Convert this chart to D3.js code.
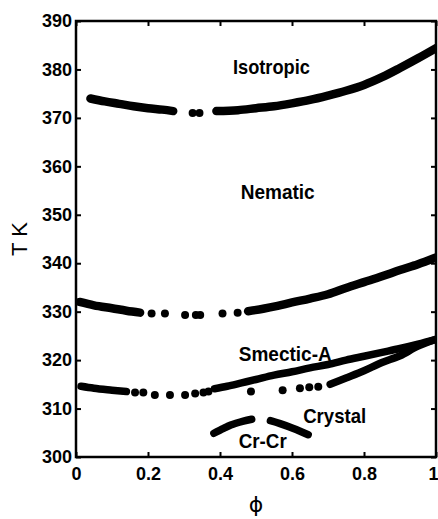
<!DOCTYPE html>
<html>
<head>
<meta charset="utf-8">
<script src="https://cdn.jsdelivr.net/npm/d3@7"></script>
<style>
  body { margin: 0; background: #fff; }
  svg { display: block; }
  text { fill: #000; }
</style>
</head>
<body>
<script>
// phase boundaries, [phi, T in K]
// dense runs are drawn as thick bands, sparse ones as single dots
const isotropicRun1 = [[0.04, 374.0], [0.08, 373.4], [0.12, 372.9], [0.16, 372.4], [0.20, 372.0], [0.24, 371.7], [0.27, 371.4]];
const isotropicDots = [[0.324, 371.0], [0.343, 371.0]];
const isotropicRun2 = [[0.39, 371.4], [0.45, 371.6], [0.5, 372.0], [0.55, 372.4], [0.6, 373.0], [0.65, 373.7], [0.7, 374.6],
  [0.75, 375.6], [0.8, 376.8], [0.85, 378.4], [0.9, 380.3], [0.95, 382.3], [1.0, 384.4]];

const nematicRun1 = [[0.01, 332.0], [0.05, 331.3], [0.1, 330.7], [0.14, 330.2], [0.178, 329.8]];
const nematicDots = [[0.21, 329.6], [0.247, 329.6], [0.303, 329.3], [0.333, 329.3], [0.345, 329.3], [0.407, 329.6], [0.449, 329.8]];
const nematicRun2 = [[0.478, 330.1], [0.52, 330.6], [0.56, 331.2], [0.6, 331.9], [0.65, 332.7], [0.7, 333.6], [0.75, 334.9],
  [0.8, 336.1], [0.85, 337.3], [0.9, 338.6], [0.95, 339.8], [1.0, 341.2]];

const smecticRun1 = [[0.014, 314.6], [0.05, 314.2], [0.1, 313.8], [0.14, 313.5]];
const smecticDots = [[0.164, 313.3], [0.187, 313.3], [0.219, 312.8], [0.261, 312.8], [0.303, 312.8], [0.331, 313.1], [0.354, 313.3], [0.368, 313.5]];
const smecticRun2 = [[0.385, 314.1], [0.42, 314.6], [0.46, 315.3], [0.5, 316.0], [0.55, 316.9], [0.6, 317.6], [0.65, 318.4],
  [0.7, 319.1], [0.75, 320.0], [0.8, 320.8], [0.85, 321.6], [0.9, 322.4], [0.95, 323.3], [1.0, 324.3]];

const crystalDots = [[0.486, 313.5], [0.574, 313.8], [0.622, 314.2], [0.648, 314.4], [0.673, 314.5]];
const crystalRun = [[0.706, 315.0], [0.75, 316.3], [0.8, 317.8], [0.85, 319.5], [0.9, 320.9], [0.95, 322.9], [1.0, 324.3]];

const crcrRun1 = [[0.383, 304.9], [0.41, 305.9], [0.43, 306.6], [0.465, 307.4], [0.488, 307.8]];
const crcrRun2 = [[0.54, 307.5], [0.567, 306.9], [0.604, 305.9], [0.645, 304.6]];

const xTicks = [0, 0.2, 0.4, 0.6, 0.8, 1];
const xTickLabels = ['0', '0.2', '0.4', '0.6', '0.8', '1'];
const yTicks = [300, 310, 320, 330, 340, 350, 360, 370, 380, 390];

// phase names, anchored at their left baseline in data units
const phaseNames = ['Isotropic', 'Nematic', 'Smectic-A', 'Crystal', 'Cr-Cr'];
const phaseNamePhi = [0.436, 0.4575, 0.452, 0.631, 0.452];
const phaseNameT = [379.1, 353.3, 319.9, 307.1, 301.8];
const phaseNameWidth = [77, 74, 93, 63, 48];

const W = 438, H = 519;
const plotL = 76, plotR = 436, plotT = 21, plotB = 457;

const svg = d3.select('body').append('svg')
  .attr('width', W).attr('height', H)
  .style('font-family', '"Liberation Sans", Arial, sans-serif');

svg.append('clipPath').attr('id', 'plot')
  .append('rect')
  .attr('x', plotL).attr('y', plotT)
  .attr('width', plotR - plotL).attr('height', plotB - plotT);

const x = d3.scaleLinear().domain([0, 1]).range([plotL, plotR]);
const y = d3.scaleLinear().domain([300, 390]).range([plotB, plotT]);

const runs = [isotropicRun1, isotropicRun2, nematicRun1, nematicRun2, smecticRun1, smecticRun2, crystalRun, crcrRun1, crcrRun2];
const dots = [].concat(isotropicDots, nematicDots, smecticDots, crystalDots);

const line = d3.line()
  .x(d => x(d[0]))
  .y(d => y(d[1]))
  .curve(d3.curveCatmullRom);

const marks = svg.append('g').attr('clip-path', 'url(#plot)');

marks.append('g').selectAll('path')
  .data(runs)
  .enter()
  .append('path')
  .attr('d', line)
  .attr('fill', 'none')
  .attr('stroke', '#000')
  .attr('stroke-width', (d, i) => i < 4 ? 8.5 : 7.5)
  .attr('stroke-linecap', 'round');

marks.append('g').selectAll('circle')
  .data(dots)
  .enter()
  .append('circle')
  .attr('cx', d => x(d[0]))
  .attr('cy', d => y(d[1]))
  .attr('r', 4)
  .attr('fill', '#000');

// axes, ticks point inwards on all four sides
const axisFont = g => g.selectAll('text')
  .style('font-size', '18px')
  .style('font-weight', 'bold')
  .style('font-family', '"Liberation Sans", Arial, sans-serif')
  .attr('fill', '#000');

svg.append('g')
  .attr('transform', `translate(${plotL},0)`)
  .call(d3.axisLeft(y).tickValues(yTicks).tickSizeInner(-5).tickSizeOuter(0).tickPadding(4))
  .call(axisFont);

const xAxisG = svg.append('g')
  .attr('transform', `translate(0,${plotB})`)
  .call(d3.axisBottom(x).tickValues(xTicks).tickFormat((d, i) => xTickLabels[i]).tickSizeInner(-5).tickSizeOuter(0).tickPadding(10))
  .call(axisFont);

// the last label sits on the window edge
xAxisG.selectAll('.tick text').filter(d => d === 1)
  .attr('text-anchor', 'end')
  .attr('dx', 2);

svg.append('g')
  .attr('transform', `translate(${plotR},0)`)
  .call(d3.axisRight(y).tickValues(yTicks).tickSizeInner(-5).tickSizeOuter(0).tickFormat(''));

svg.append('g')
  .attr('transform', `translate(0,${plotT})`)
  .call(d3.axisTop(x).tickValues(xTicks).tickSizeInner(-5).tickSizeOuter(0).tickFormat(''));

svg.selectAll('.domain').remove();
svg.selectAll('.tick line').attr('stroke', '#000').attr('stroke-width', 2);

svg.append('rect')
  .attr('x', plotL).attr('y', plotT)
  .attr('width', plotR - plotL).attr('height', plotB - plotT)
  .attr('fill', 'none')
  .attr('stroke', '#000')
  .attr('stroke-width', 2.5);

svg.append('g').selectAll('text')
  .data(phaseNames)
  .enter()
  .append('text')
  .attr('x', (d, i) => x(phaseNamePhi[i]))
  .attr('y', (d, i) => y(phaseNameT[i]))
  .attr('textLength', (d, i) => phaseNameWidth[i])
  .attr('lengthAdjust', 'spacingAndGlyphs')
  .attr('fill', '#000')
  .style('font-size', '21px')
  .style('font-weight', 'bold')
  .text(d => d);

// axis titles
svg.append('text')
  .attr('transform', 'translate(27,239) rotate(-90)')
  .attr('text-anchor', 'middle')
  .attr('fill', '#000')
  .style('font-size', '22px')
  .text('T K');

svg.append('text')
  .attr('x', 256).attr('y', 512)
  .attr('text-anchor', 'middle')
  .attr('fill', '#000')
  .style('font-size', '22px')
  .style('font-family', '"DejaVu Sans", sans-serif')
  .text('\u03D5');
</script>
</body>
</html>
